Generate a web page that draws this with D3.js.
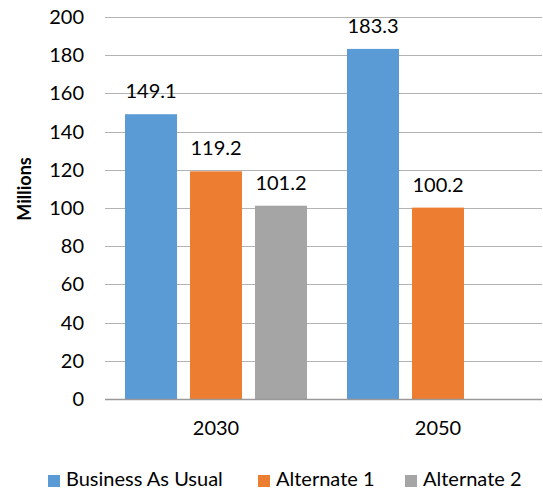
<!DOCTYPE html>
<html>
<head>
<meta charset="utf-8">
<script src="https://cdn.jsdelivr.net/npm/d3@7"></script>
<style>
  body { margin: 0; background: #fff; }
  text { font-family: Lato, "Open Sans", sans-serif; fill: #000; }
</style>
</head>
<body>
<div id="chart"></div>
<script>
// data
const years = ["2030", "2050"];
const series = ["Business As Usual", "Alternate 1", "Alternate 2"];
const bau = [149.1, 183.3];
const alt1 = [119.2, 100.2];
const alt2 = [101.2, null];
const yTicks = [0, 20, 40, 60, 80, 100, 120, 140, 160, 180, 200];
const colors = ["#5b9bd5", "#ed7d31", "#a5a5a5"];

const rows = years.map((yr, i) => ({
  year: yr,
  values: [bau[i], alt1[i], alt2[i]]
}));

const width = 543, height = 490;
const plot = { left: 105, right: 542, top: 17, bottom: 399 };
const fs = "20px";

const svg = d3.select("#chart").append("svg")
  .attr("width", width)
  .attr("height", height);

const y = d3.scaleLinear().domain([0, 200]).range([plot.bottom, plot.top]);

// clusters are 222px apart in the original, a bit wider than the grid
const x0 = d3.scaleBand().domain(years).range([plot.left, plot.left + 444]);
const x1 = d3.scaleBand().domain(series).range([0, x0.bandwidth()])
  .paddingInner(0.2).paddingOuter(0.3077);

// gridlines
svg.append("g")
  .selectAll("line")
  .data(yTicks.filter(d => d > 0))
  .join("line")
    .attr("x1", plot.left)
    .attr("x2", plot.right)
    .attr("y1", d => Math.round(y(d)) + 0.5)
    .attr("y2", d => Math.round(y(d)) + 0.5)
    .attr("stroke", "#b3b3b3")
    .attr("stroke-width", 1);

// y axis labels
const yAxis = svg.append("g")
  .attr("transform", `translate(${plot.left},0)`)
  .call(d3.axisLeft(y).tickValues(yTicks).tickSize(0).tickPadding(21));
yAxis.select(".domain").remove();
yAxis.selectAll("text")
  .style("font-size", fs)
  .style("font-family", "Lato, 'Open Sans', sans-serif")
  .attr("fill", "#000");

// bars
const groups = svg.append("g")
  .selectAll("g")
  .data(rows)
  .join("g")
    .attr("transform", d => `translate(${x0(d.year)},0)`);

const cells = d => d.values.map((v, i) => ({ key: series[i], value: v, i })).filter(e => e.value != null);

groups.selectAll("rect")
  .data(cells)
  .join("rect")
    .attr("x", d => x1(d.key))
    .attr("y", d => y(d.value))
    .attr("width", x1.bandwidth())
    .attr("height", d => y(0) - y(d.value))
    .attr("fill", d => colors[d.i]);

groups.selectAll("text.val")
  .data(cells)
  .join("text")
    .attr("class", "val")
    .attr("x", d => x1(d.key) + x1.bandwidth() / 2)
    .attr("y", d => y(d.value) - 16)
    .attr("text-anchor", "middle")
    .style("font-size", fs)
    .text(d => d.value.toFixed(1));

// x axis
svg.append("line")
  .attr("x1", plot.left)
  .attr("x2", plot.right)
  .attr("y1", plot.bottom + 0.5)
  .attr("y2", plot.bottom + 0.5)
  .attr("stroke", "#999")
  .attr("stroke-width", 1.5);

svg.append("g")
  .selectAll("text")
  .data(years)
  .join("text")
    .attr("x", d => x0(d) + x0.bandwidth() / 2)
    .attr("y", 435)
    .attr("text-anchor", "middle")
    .style("font-size", fs)
    .text(d => d);

// y title
svg.append("text")
  .attr("transform", "translate(31,189) rotate(-90)")
  .attr("text-anchor", "middle")
  .style("font-size", "18px")
  .style("font-weight", "bold")
  .text("Millions");

// legend
const legendX = [48, 258, 405];
const legend = svg.append("g")
  .selectAll("g")
  .data(series)
  .join("g")
    .attr("transform", (d, i) => `translate(${legendX[i]},475)`);

legend.append("rect")
  .attr("width", 12)
  .attr("height", 12)
  .attr("fill", (d, i) => colors[i]);

legend.append("text")
  .attr("x", 18)
  .attr("y", 11)
  .style("font-size", fs)
  .text(d => d);
</script>
</body>
</html>
